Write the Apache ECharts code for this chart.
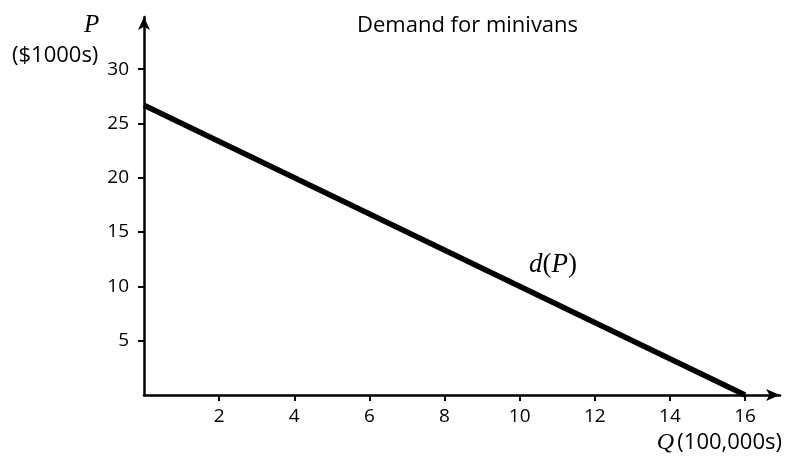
<!DOCTYPE html>
<html>
<head>
<meta charset="utf-8">
<script src="https://cdn.jsdelivr.net/npm/echarts@6/dist/echarts.min.js"></script>
<style>html,body{margin:0;padding:0;background:#fff}#c{width:786px;height:459px}</style>
</head>
<body>
<div id="c"></div>
<script>
// Data
const qValues = [0, 16];          // quantity (100,000s)
const pValues = [26.67, 0];       // price ($1000s)
const xTicks = [2, 4, 6, 8, 10, 12, 14, 16];
const yTicks = [5, 10, 15, 20, 25, 30];
const titleText = 'Demand for minivans';

const linePoints = qValues.map((q, i) => [q, pValues[i]]);
const sans = 'Open Sans';
const serif = 'Liberation Serif';
const axisColor = '#000';

function xAxisBase(extra) {
  return Object.assign({
    type: 'value', min: 0, max: 16.93, interval: 2,
    splitLine: { show: false }
  }, extra);
}
function yAxisBase(extra) {
  return Object.assign({
    type: 'value', min: 0, max: 34.8, interval: 5,
    splitLine: { show: false }
  }, extra);
}

const chart = echarts.init(document.getElementById('c'));
chart.setOption({
  animation: false,
  backgroundColor: '#fff',
  title: {
    text: titleText, left: 352, top: 10,
    textStyle: { fontFamily: sans, fontSize: 22, fontWeight: 'normal', color: '#000' }
  },
  grid: { left: 144, right: 6, top: 17, bottom: 64, containLabel: false },
  xAxis: [
    xAxisBase({
      position: 'bottom',
      axisLine: { show: true, lineStyle: { color: axisColor, width: 2.5 }, symbol: ['none', 'arrow'], symbolSize: [9, 14] },
      axisTick: { show: true, length: 6, lineStyle: { color: axisColor, width: 2 }, customValues: xTicks },
      axisLabel: { show: true, margin: 12, color: '#000', fontFamily: sans, fontSize: 19, customValues: xTicks }
    }),
    xAxisBase({
      position: 'top',
      axisLine: { show: false, onZero: true },
      axisTick: { show: true, inside: true, length: 6, lineStyle: { color: axisColor, width: 2 }, customValues: xTicks },
      axisLabel: { show: false }
    })
  ],
  yAxis: [
    yAxisBase({
      position: 'left',
      axisLine: { show: true, lineStyle: { color: axisColor, width: 2.5 }, symbol: ['none', 'arrow'], symbolSize: [9, 13] },
      axisTick: { show: true, length: 6, lineStyle: { color: axisColor, width: 2 }, customValues: yTicks },
      axisLabel: { show: true, margin: 15, color: '#000', fontFamily: sans, fontSize: 19, customValues: yTicks }
    }),
    yAxisBase({
      position: 'right',
      axisLine: { show: false, onZero: true },
      axisTick: { show: true, inside: true, length: 6, lineStyle: { color: axisColor, width: 2 }, customValues: yTicks },
      axisLabel: { show: false }
    })
  ],
  graphic: [
    { type: 'text', left: 84, top: 13, style: { text: 'P', font: 'italic 25px "Liberation Serif"', fill: '#000' } },
    { type: 'text', left: 12, top: 45, style: { text: '($1000s)', font: '22px "Open Sans"', fill: '#000' } },
    { type: 'text', left: 529, top: 251, style: {
        text: '{i|d}{r|(}{i|P}{r|)}',
        rich: {
          i: { fontFamily: serif, fontStyle: 'italic', fontSize: 27, fill: '#000' },
          r: { fontFamily: serif, fontSize: 27, fill: '#000' }
        }
    } },
    { type: 'text', right: 4, top: 431, style: {
        text: '{q|Q} {u|(100,000s)}',
        rich: {
          q: { fontFamily: serif, fontStyle: 'italic', fontSize: 24, fill: '#000' },
          u: { fontFamily: sans, fontSize: 22, fill: '#000' }
        }
    } }
  ],
  series: [{
    type: 'line',
    xAxisIndex: 0, yAxisIndex: 0,
    data: linePoints,
    showSymbol: false,
    lineStyle: { color: '#000', width: 5.5 },
    silent: true
  }]
});
</script>
</body>
</html>
